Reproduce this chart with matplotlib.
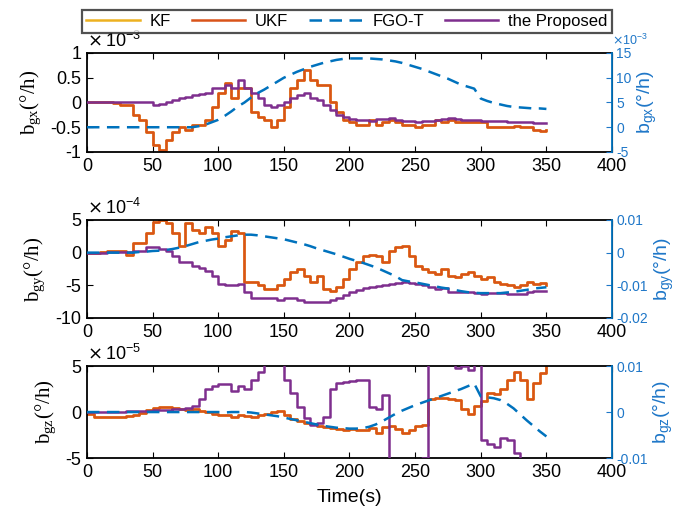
import matplotlib
matplotlib.use("Agg")
import matplotlib.pyplot as plt
from matplotlib.lines import Line2D
import numpy as np

plt.rcParams["font.family"] = ["Liberation Sans", "DejaVu Sans"]

# time axis (s), one sample every 5 s
t = np.arange(0, 351, 5)

# ---- b_gx: left axis in 1e-3 deg/h, FGO-T on right axis in 1e-3 deg/h
ukf_x = [0, 0, 0, 0, -0.02, -0.05, -0.05, -0.25, -0.35, -0.6, -0.85, -0.95, -0.75,
         -0.6, -0.5, -0.55, -0.45, -0.45, -0.35, -0.1, 0.2, 0.4, 0.1, 0.3, 0.3, -0.2,
         -0.3, -0.35, -0.5, -0.35, -0.1, 0.3, 0.45, 0.65, 0.45, 0.35, 0.35, 0.0, -0.2,
         -0.35, -0.4, -0.45, -0.45, -0.35, -0.45, -0.4, -0.35, -0.4, -0.45, -0.45,
         -0.5, -0.45, -0.45, -0.35, -0.4, -0.35, -0.4, -0.4, -0.4, -0.4, -0.4, -0.5,
         -0.5, -0.5, -0.5, -0.48, -0.5, -0.5, -0.55, -0.58, -0.55]
kf_x = list(ukf_x)  # KF lies under UKF in the figure
prop_x = [0, 0, 0, 0, 0, 0, 0, 0, 0, 0, -0.05, -0.03, 0.0, 0.05, 0.1, 0.12, 0.15,
          0.18, 0.2, 0.3, 0.3, 0.35, 0.3, 0.45, 0.3, 0.2, 0.1, -0.05, -0.1, -0.05,
          0.0, 0.1, 0.15, 0.2, 0.1, 0.05, -0.05, -0.15, -0.25, -0.3, -0.33, -0.35,
          -0.35, -0.37, -0.33, -0.33, -0.32, -0.35, -0.37, -0.38, -0.4, -0.38, -0.37,
          -0.35, -0.33, -0.32, -0.33, -0.35, -0.35, -0.36, -0.37, -0.38, -0.38, -0.38,
          -0.39, -0.4, -0.4, -0.4, -0.41, -0.42, -0.42]
fgo_x = [0, 0, 0, 0, 0, 0, 0, 0, 0, 0, 0, 0, 0, 0, 0, 0, 0, 0.2, 0.5, 1.0, 1.5, 2.3,
         3.2, 4.2, 5.0, 6.0, 6.9, 7.6, 8.4, 9.2, 10.0, 10.6, 11.2, 11.7, 12.2, 12.6,
         13.0, 13.3, 13.6, 13.8, 13.9, 13.9, 13.9, 13.9, 13.8, 13.7, 13.5, 13.3, 13.0,
         12.6, 12.2, 11.8, 11.3, 10.8, 10.3, 9.8, 9.2, 8.6, 8.2, 7.8, 5.8, 5.3, 4.9,
         4.6, 4.3, 4.1, 4.0, 3.9, 3.8, 3.8, 3.7]

# ---- b_gy: left axis in 1e-4 deg/h, FGO-T on right axis in deg/h
ukf_y = [0, 0, 0.05, 0.2, 0.3, 0.2, -0.3, 1.5, 1.5, 3.0, 4.7, 5.0, 4.5, 3.0, 1.0,
         4.5, 3.5, 3.0, 4.0, 3.0, 1.0, 2.0, 3.3, 3.0, -4.5, -4.5, -5.0, -5.5, -5.5,
         -5.0, -4.0, -3.0, -2.5, -3.5, -4.5, -3.5, -5.5, -5.8, -5.3, -4.0, -2.5, -1.5,
         -0.5, -0.3, -0.5, -1.5, 0.3, 0.8, 1.0, -0.5, -2.0, -2.5, -3.0, -3.3, -2.5,
         -3.5, -3.8, -3.2, -3.0, -3.5, -4.0, -3.8, -4.5, -4.8, -5.0, -5.3, -5.0, -4.5,
         -4.8, -4.7, -5.0]
kf_y = list(ukf_y)
prop_y = [0, 0, 0, 0.05, 0.1, 0.1, 0.15, 0.2, 0.3, 0.8, 0.9, 0.5, 0.2, -0.5, -1.5,
          -1.5, -2.0, -2.3, -2.8, -3.5, -4.8, -5.0, -5.0, -4.8, -6.0, -7.0, -7.0, -7.0,
          -7.0, -7.2, -7.0, -7.0, -7.3, -7.6, -7.5, -7.5, -7.5, -7.3, -7.0, -6.5, -6.0,
          -5.7, -5.4, -5.2, -5.1, -5.0, -4.8, -4.6, -4.5, -4.6, -4.8, -5.0, -5.2, -5.5,
          -5.4, -6.0, -6.0, -6.0, -6.0, -6.2, -6.3, -6.2, -6.2, -6.2, -6.3, -6.3, -6.3,
          -6.0, -5.9, -5.8, -5.8]
fgo_y = [0, 0, 0, 0, 0, 0, 0, 0, 0.0002, 0.0003, 0.0005, 0.0006, 0.0008, 0.0011,
         0.0015, 0.002, 0.0026, 0.0032, 0.0036, 0.004, 0.0043, 0.0047, 0.005, 0.0053,
         0.0055, 0.0055, 0.0053, 0.005, 0.0047, 0.0044, 0.0041, 0.0036, 0.0031, 0.0026,
         0.002, 0.0013, 0.0007, 0.0001, -0.0005, -0.0012, -0.0019, -0.0025, -0.0031,
         -0.0038, -0.0045, -0.0054, -0.0063, -0.0072, -0.0084, -0.0088, -0.0091,
         -0.0095, -0.0099, -0.0103, -0.0107, -0.011, -0.0114, -0.0118, -0.0121,
         -0.0123, -0.0124, -0.0124, -0.0124, -0.0124, -0.0122, -0.012, -0.0117,
         -0.0114, -0.011, -0.0108, -0.0106]

# ---- b_gz: left axis in 1e-5 deg/h, FGO-T on right axis in deg/h
ukf_z = [-0.2, -0.5, -0.5, -0.5, -0.5, -0.5, -0.4, -0.3, -0.1, 0.2, 0.4, 0.6, 0.5,
         0.4, 0.3, 0.2, 0.3, 0.1, 0.0, -0.2, -0.3, -0.3, -0.5, -0.3, -0.4, -0.5, -0.3,
         -0.2, 0.0, 0.1, -0.3, -0.8, -1.0, -1.2, -1.3, -1.5, -1.6, -1.7, -1.8, -2.0,
         -1.8, -2.0, -1.9, -1.7, -2.3, -1.6, -1.5, -1.8, -2.3, -2.0, -1.5, -1.4, 1.4,
         1.5, 1.5, 1.4, 1.3, 0.35, -0.2, 0.7, 1.2, 2.1, 2.0, 2.5, 3.5, 4.4, 3.5, 1.4,
         3.2, 4.2, 4.9]
kf_z = list(ukf_z)
prop_z = [0, 0, 0, 0, 0, 0.05, 0.1, 0.1, 0.1, 0.15, 0.2, 0.2, 0.25, 0.3, 0.35, 0.4,
          0.7, 1.4, 2.5, 2.8, 3.0, 3.0, 2.3, 2.8, 2.5, 3.5, 4.4, 5.5, 6.0, 6.0, 3.5,
          2.1, 0.5, -0.7, -1.4, -1.2, -0.5, 2.5, 3.2, 3.3, 3.4, 3.5, 3.5, 0.5, 0.3,
          1.8, -6.0, -6.0, -6.0, -6.0, -6.0, -5.0, 6.0, 6.0, 6.0, 6.0, 4.8, 5.0, 4.6,
          6.0, -3.0, -3.5, -3.8, -2.8, -3.0, -4.5, -6.0, -6.0, -6.0, -6.0, -6.0]
fgo_z = [0, 0, 0, 0, 0, 0, 0, 0, 0, 0, 0, 0, 0, 0, 0, 0, 0, 0, 0, 0, 0, -0.0001, 0,
         0, 0, -0.0001, -0.0003, -0.0005, -0.0007, -0.0009, -0.0012, -0.0015, -0.0018,
         -0.0021, -0.0024, -0.0027, -0.003, -0.0032, -0.0034, -0.0035, -0.0036,
         -0.0036, -0.0035, -0.0032, -0.0027, -0.002, -0.0012, -0.0004, 0.0003, 0.0009,
         0.0015, 0.002, 0.0025, 0.003, 0.0035, 0.004, 0.0045, 0.005, 0.0056, 0.0062,
         0.0034, 0.0032, 0.003, 0.0026, 0.0018, 0.0008, -0.0005, -0.0018, -0.003,
         -0.0042, -0.0053]

labels = ["KF", "UKF", "FGO-T", "the Proposed"]
KF_C, UKF_C, FGO_C, PROP_C = "#EDB120", "#D95319", "#0072BD", "#7E2F8E"
RIGHT_C = "#1F77C8"
DASH = (0, (5, 3))

panels = [
    # (kf, ukf, prop, fgo, left lim, left ticks, right lim, right ticks, offset L, offset R, sub)
    (kf_x, ukf_x, prop_x, fgo_x, (-1, 1), [-1, -0.5, 0, 0.5, 1], (-5, 15),
     [-5, 0, 5, 10, 15], "-3", "-3", "gx"),
    (kf_y, ukf_y, prop_y, fgo_y, (-10, 5), [-10, -5, 0, 5], (-0.02, 0.01),
     [-0.02, -0.01, 0, 0.01], "-4", None, "gy"),
    (kf_z, ukf_z, prop_z, fgo_z, (-5, 5), [-5, 0, 5], (-0.01, 0.01),
     [-0.01, 0, 0.01], "-5", None, "gz"),
]
rects = [
    [0.126, 0.706, 0.761, 0.1915],
    [0.126, 0.385, 0.761, 0.1895],
    [0.126, 0.114, 0.761, 0.178],
]

fig = plt.figure(figsize=(6.9, 5.17), dpi=100)

for rect, (kf, ukf, prop, fgo, ylim, yticks, rlim, rticks, offl, offr, sub) in zip(rects, panels):
    ax = fig.add_axes(rect)
    ax.plot(t, kf, color=KF_C, lw=1.8, drawstyle="steps-post")
    ax.plot(t, ukf, color=UKF_C, lw=1.8, drawstyle="steps-post")
    ax.plot(t, prop, color=PROP_C, lw=1.8, drawstyle="steps-post", zorder=3)
    ax.set_xlim(0, 400)
    ax.set_ylim(*ylim)
    ax.set_yticks(yticks)
    ax.set_yticklabels([f"{v:g}" for v in yticks])
    ax.set_xticks(np.arange(0, 401, 50))
    ax.tick_params(axis="both", direction="in", labelsize=13, length=4, width=0.8,
                   top=True, right=False, pad=4)
    for s in ["left", "top", "bottom"]:
        ax.spines[s].set_linewidth(1.3)
    ax.set_ylabel(r"b$_{\mathregular{%s}}$(°/h)" % sub, fontsize=15,
                  family="Liberation Serif", labelpad=5)
    ax.text(0.0, 1.02, r"$\times\mathregular{\,10^{%s}}$" % offl,
            transform=ax.transAxes, fontsize=13, ha="left", va="bottom")

    ax2 = ax.twinx()
    ax2.plot(t, fgo, color=FGO_C, lw=1.8, ls=DASH)
    ax2.set_ylim(*rlim)
    ax2.set_yticks(rticks)
    ax2.set_yticklabels([f"{v:g}" for v in rticks])
    ax2.tick_params(axis="y", direction="in", labelsize=10, length=4, width=0.8,
                    colors=RIGHT_C, pad=3)
    ax2.spines["right"].set_color(FGO_C)
    ax2.spines["right"].set_linewidth(1.3)
    for s in ["left", "top", "bottom"]:
        ax2.spines[s].set_visible(False)
    ax2.set_ylabel(r"b$_{\mathregular{%s}}$(°/h)" % sub, fontsize=14, color=RIGHT_C,
                   labelpad=3)
    if offr:
        ax2.text(1.0, 1.05, r"$\times\mathregular{10^{%s}}$" % offr,
                 transform=ax.transAxes, fontsize=9, ha="left", va="bottom",
                 color=RIGHT_C)
    last = ax

last.set_xlabel("Time(s)", fontsize=14, labelpad=6)

handles = [
    Line2D([], [], color=KF_C, lw=1.8),
    Line2D([], [], color=UKF_C, lw=1.8),
    Line2D([], [], color=FGO_C, lw=1.8, ls=DASH),
    Line2D([], [], color=PROP_C, lw=1.8),
]
leg = fig.legend(handles, labels, loc="lower left", ncol=4, mode="expand",
                 bbox_to_anchor=(0.119, 0.936, 0.768, 0.05), fontsize=12,
                 frameon=True, fancybox=False, handlelength=3.2, handletextpad=0.6,
                 borderpad=0.25, columnspacing=1.0, borderaxespad=0)
leg.get_frame().set_edgecolor("#262626")
leg.get_frame().set_linewidth(1.6)

fig.savefig("out.png", dpi=100)
